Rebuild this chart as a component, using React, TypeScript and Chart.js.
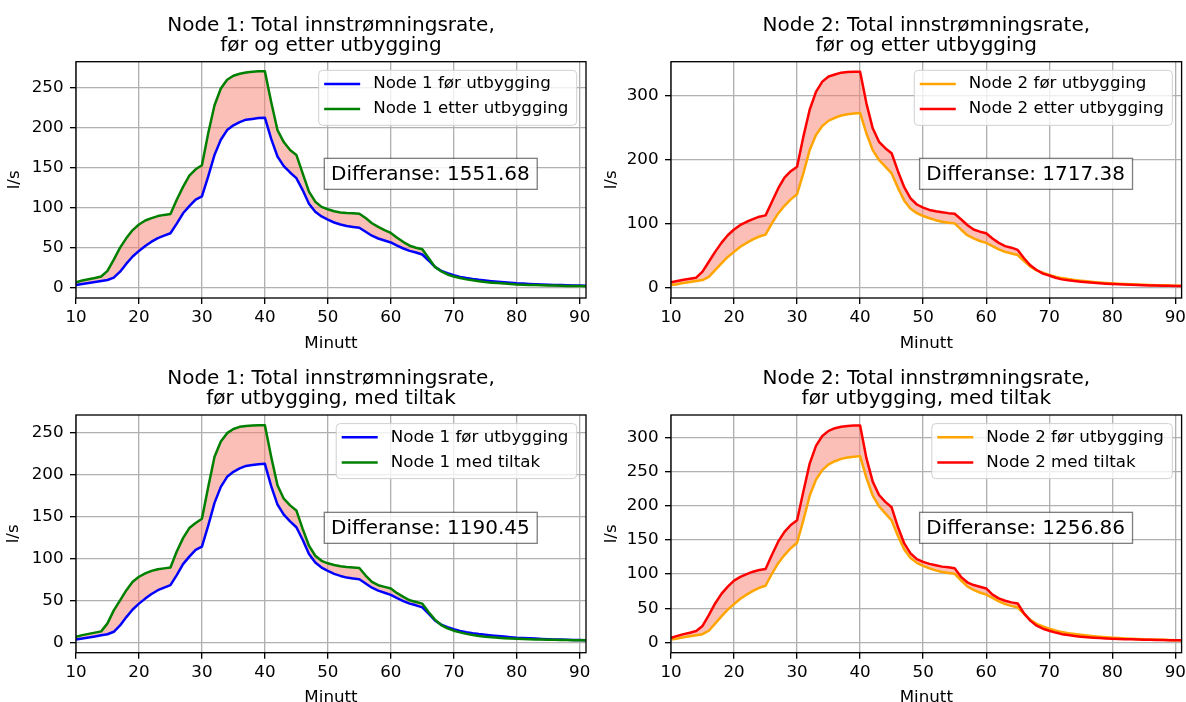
import React, { useEffect, useRef } from 'react';
import { Chart, registerables } from 'chart.js';

Chart.register(...registerables);

const FONT = '"DejaVu Sans", sans-serif';
const FILL = 'rgba(250,128,114,0.5)';

const minutes = [
  10, 11, 12, 13, 14, 15, 16, 17, 18, 19, 20, 21, 22, 23, 24, 25, 26, 27, 28, 29, 30,
  31, 32, 33, 34, 35, 36, 37, 38, 39, 40, 41, 42, 43, 44, 45, 46, 47, 48, 49, 50,
  51, 52, 53, 54, 55, 56, 57, 58, 59, 60, 61, 62, 63, 64, 65, 66, 67, 68, 69, 70,
  71, 72, 73, 74, 75, 76, 77, 78, 79, 80, 81, 82, 83, 84, 85, 86, 87, 88, 89, 90, 91,
];

const node1Before = [
  3.3, 4.5, 5.8, 7, 8.3, 9.6, 12.5, 20, 30, 39, 46, 52, 57.5, 62, 65, 68, 80, 93, 102, 110, 114,
  139, 166, 185, 197, 203, 207, 210, 211, 212, 212.5, 186, 164, 152, 144, 137, 122, 105, 95, 89, 85,
  81.5, 79, 77, 76, 75, 70, 65, 61.5, 59, 56.5, 52.5, 49, 46, 44, 41.5, 34, 26, 21, 18, 15.5,
  13.5, 12, 10.8, 9.8, 9, 8.2, 7.5, 6.8, 6.1, 5.5, 5.1, 4.7, 4.4, 4.0, 3.7, 3.4, 3.2, 3.0, 2.8, 2.6, 2.5,
];

const node1After = [
  6.7, 9, 10.5, 12, 14, 21, 35, 50, 62, 72, 79, 84, 87, 89.5, 91, 92, 110, 126, 140, 148, 153,
  193, 228, 249, 260, 265, 267.5, 269, 270, 270.5, 270.5, 232, 197, 182, 172, 166, 143, 120, 107.5, 101, 98,
  95.5, 94, 93.3, 93, 92.5, 87, 80.5, 76, 72, 68.5, 62.5, 57, 52.5, 50, 48, 37, 26, 20.5, 16.5, 14,
  12, 10.4, 9.2, 8, 7, 6.3, 5.7, 5.1, 4.6, 4.1, 3.8, 3.5, 3.2, 3.0, 2.8, 2.6, 2.4, 2.2, 2.1, 2.0, 1.9,
];

const node1Measures = [
  6.5, 8.5, 10, 11.5, 13, 22.5, 38, 50, 62, 72, 78, 82, 85, 87, 88, 89, 108, 124, 136, 142, 147,
  185, 221, 239, 249, 254, 256.5, 257.5, 258, 258.5, 258.5, 221, 187, 171, 163, 157, 135, 115, 103, 97, 94,
  92, 90.5, 89.5, 89, 88.5, 79.5, 72, 68, 66, 64, 58.5, 54, 50, 48, 46, 36, 27, 20.5, 16.5, 13.8,
  11.8, 10, 8.8, 7.6, 6.7, 6.0, 5.4, 4.9, 4.5, 4.2, 3.9, 3.6, 3.4, 3.2, 3.0, 2.9, 2.8, 2.6, 2.5, 2.4, 2.3,
];

const node2Before = [
  4, 5.5, 7.5, 9, 10.5, 12, 17, 27.5, 38, 48, 56, 64, 70, 75.5, 80, 83, 100.5, 116, 128, 138, 146,
  179, 215, 238.5, 252.5, 261, 265.5, 269, 271, 272, 273, 241, 215, 199.5, 189, 178.6, 156, 136, 123.5, 116.5, 112,
  108.5, 105.5, 103, 101.5, 100.5, 91, 82, 77, 73, 70, 65, 60, 56, 53.5, 51, 41.7, 33, 27, 23.4, 20,
  17.3, 15, 13.5, 12.2, 11, 10, 9.1, 8.3, 7.5, 6.8, 6.3, 5.8, 5.4, 5, 4.7, 4.3, 4, 3.7, 3.4, 3.1, 2.9,
];

const node2After = [
  8.3, 10.5, 12.5, 14, 15.6, 25, 40.6, 56, 70, 82, 91, 98, 103, 107, 111, 113, 134, 155, 172, 182, 189,
  236, 278, 306, 322, 330, 333, 336, 337, 337.5, 337.5, 288, 249, 228, 218, 210, 182, 157, 139.7, 130, 125,
  121.5, 119.5, 118, 116.5, 115.5, 107, 98, 91, 87.5, 85, 77, 70, 65, 62.5, 59, 46, 35, 27.6, 22, 19,
  15.5, 13, 11.5, 10.3, 9.4, 8.5, 7.7, 7, 6.3, 5.7, 5.3, 4.9, 4.5, 4.1, 3.8, 3.5, 3.3, 3.1, 2.9, 2.7, 2.6,
];

const node2Measures = [
  6.8, 9.5, 12, 14, 16.6, 24, 40, 57, 71, 81.6, 90.4, 96, 100, 103.6, 106, 107.5, 128, 147.6, 162, 172, 179,
  221, 262, 288, 302.5, 310, 314, 316, 317, 318, 318, 270, 235.6, 216, 206, 198, 169, 145, 130.5, 122, 118,
  115, 113, 111, 110, 108.5, 96, 88, 84, 81.6, 79, 70, 64.5, 61, 58.6, 57, 42.5, 31.8, 24.4, 20, 17,
  14.3, 12, 10.6, 9.3, 8.3, 7.5, 6.8, 6.2, 5.8, 5.4, 5.0, 4.7, 4.4, 4.1, 3.9, 3.7, 3.5, 3.3, 3.1, 3.0, 2.9,
];

const xTicks = [10, 20, 30, 40, 50, 60, 70, 80, 90];
const xRange = [10, 91];
const yTicksNode1 = [0, 50, 100, 150, 200, 250];
const yTicksNode2Top = [0, 100, 200, 300];
const yTicksNode2Bottom = [0, 50, 100, 150, 200, 250, 300];

const titlesLine1 = ['Node 1: Total innstrømningsrate,', 'Node 2: Total innstrømningsrate,'];
const titlesLine2 = ['før og etter utbygging', 'før utbygging, med tiltak'];
const diffTexts = ['Differanse: 1551.68', 'Differanse: 1717.38', 'Differanse: 1190.45', 'Differanse: 1256.86'];

type Cfg = {
  left: number; top: number; width: number; height: number;
  padTop: number; padRight: number; xHeight: number; ylabOffset: number;
  title: string[]; labels: string[]; colors: string[];
  before: number[]; after: number[];
  yRange: number[]; yTicks: number[]; diff: string;
};

const panels: Cfg[] = [
  {
    left: 0, top: 0, width: 593, height: 353, padTop: 61.7, padRight: 7, xHeight: 55, ylabOffset: 61,
    title: [titlesLine1[0], titlesLine2[0]],
    labels: ['Node 1 før utbygging', 'Node 1 etter utbygging'], colors: ['#0000ff', '#008000'],
    before: node1Before, after: node1After, yRange: [-12.9, 282.5], yTicks: yTicksNode1, diff: diffTexts[0],
  },
  {
    left: 595, top: 0, width: 591, height: 353, padTop: 61.7, padRight: 4.4, xHeight: 55, ylabOffset: 59.3,
    title: [titlesLine1[1], titlesLine2[0]],
    labels: ['Node 2 før utbygging', 'Node 2 etter utbygging'], colors: ['#ffa500', '#ff0000'],
    before: node2Before, after: node2After, yRange: [-16.1, 353.1], yTicks: yTicksNode2Top, diff: diffTexts[1],
  },
  {
    left: 0, top: 353, width: 593, height: 349, padTop: 62, padRight: 7, xHeight: 49.3, ylabOffset: 62.7,
    title: [titlesLine1[0], titlesLine2[1]],
    labels: ['Node 1 før utbygging', 'Node 1 med tiltak'], colors: ['#0000ff', '#008000'],
    before: node1Before, after: node1Measures, yRange: [-12.4, 270.6], yTicks: yTicksNode1, diff: diffTexts[2],
  },
  {
    left: 595, top: 353, width: 591, height: 349, padTop: 62, padRight: 4.4, xHeight: 49.3, ylabOffset: 59.3,
    title: [titlesLine1[1], titlesLine2[1]],
    labels: ['Node 2 før utbygging', 'Node 2 med tiltak'], colors: ['#ffa500', '#ff0000'],
    before: node2Before, after: node2Measures, yRange: [-15.2, 333.3], yTicks: yTicksNode2Bottom, diff: diffTexts[3],
  },
];

function roundRect(ctx: CanvasRenderingContext2D, x: number, y: number, w: number, h: number, r: number) {
  ctx.beginPath();
  ctx.moveTo(x + r, y);
  ctx.lineTo(x + w - r, y);
  ctx.arcTo(x + w, y, x + w, y + r, r);
  ctx.lineTo(x + w, y + h - r);
  ctx.arcTo(x + w, y + h, x + w - r, y + h, r);
  ctx.lineTo(x + r, y + h);
  ctx.arcTo(x, y + h, x, y + h - r, r);
  ctx.lineTo(x, y + r);
  ctx.arcTo(x, y, x + r, y, r);
  ctx.closePath();
}

function Panel({ cfg }: { cfg: Cfg }) {
  const ref = useRef<HTMLCanvasElement | null>(null);
  useEffect(() => {
    const canvas = ref.current;
    if (!canvas) return;
    const decor = {
      id: 'decor',
      afterDraw(chart: any) {
        const ctx: CanvasRenderingContext2D = chart.ctx;
        const a = chart.chartArea;
        ctx.save();
        ctx.strokeStyle = '#000';
        ctx.lineWidth = 1.33;
        ctx.strokeRect(a.left, a.top, a.right - a.left, a.bottom - a.top);
        const cx = (a.left + a.right) / 2;
        ctx.fillStyle = '#000';
        ctx.textAlign = 'center';
        ctx.textBaseline = 'alphabetic';
        ctx.font = `20px ${FONT}`;
        ctx.fillText(cfg.title[0], cx, a.top - 31);
        ctx.fillText(cfg.title[1], cx, a.top - 11);
        ctx.font = `16.7px ${FONT}`;
        ctx.fillText('Minutt', cx, a.bottom + 49.5);
        ctx.save();
        ctx.translate(a.left - cfg.ylabOffset, (a.top + a.bottom) / 2);
        ctx.rotate(-Math.PI / 2);
        ctx.textBaseline = 'middle';
        ctx.fillText('l/s', 0, 0);
        ctx.restore();

        // legend
        ctx.font = `16.7px ${FONT}`;
        const maxW = Math.max(...cfg.labels.map((l) => ctx.measureText(l).width));
        const boxRight = a.right - 9.3;
        const boxTop = a.top + 8.6;
        const textStart = boxRight - 8.4 - maxW;
        const sampleEnd = textStart - 13;
        const sampleStart = sampleEnd - 36;
        const boxLeft = sampleStart - 5.5;
        roundRect(ctx, boxLeft, boxTop, boxRight - boxLeft, 55, 4);
        ctx.fillStyle = 'rgba(255,255,255,0.8)';
        ctx.fill();
        ctx.strokeStyle = '#d0d0d0';
        ctx.lineWidth = 1;
        ctx.stroke();
        const rows = [13.7, 38.8];
        cfg.labels.forEach((l, i) => {
          const y = boxTop + rows[i];
          ctx.strokeStyle = cfg.colors[i];
          ctx.lineWidth = 2.5;
          ctx.beginPath();
          ctx.moveTo(sampleStart, y);
          ctx.lineTo(sampleEnd, y);
          ctx.stroke();
          ctx.fillStyle = '#000';
          ctx.textAlign = 'left';
          ctx.textBaseline = 'middle';
          ctx.fillText(l, textStart, y);
        });

        // difference annotation
        ctx.font = `20px ${FONT}`;
        ctx.textAlign = 'left';
        ctx.textBaseline = 'alphabetic';
        const tx = cx;
        const ty = (a.top + a.bottom) / 2;
        const tw = ctx.measureText(cfg.diff).width;
        ctx.fillStyle = 'rgba(255,255,255,0.85)';
        ctx.fillRect(tx - 6.7, ty - 21.5, tw + 14.2, 31);
        ctx.strokeStyle = 'rgba(0,0,0,0.5)';
        ctx.lineWidth = 1.33;
        ctx.strokeRect(tx - 6.7, ty - 21.5, tw + 14.2, 31);
        ctx.fillStyle = '#000';
        ctx.fillText(cfg.diff, tx, ty);
        ctx.restore();
      },
    };

    const gridOpts = {
      color: '#b0b0b0',
      lineWidth: 1.33,
      tickLength: 6,
      tickColor: '#000',
      tickWidth: 1.33,
    };

    const chart = new Chart(canvas, {
      type: 'line',
      data: {
        datasets: [
          {
            label: cfg.labels[1],
            data: minutes.map((m, i) => ({ x: m, y: cfg.after[i] })),
            borderColor: cfg.colors[1],
            backgroundColor: FILL,
            borderWidth: 2.5,
            pointRadius: 0,
            tension: 0,
            fill: '+1',
            borderJoinStyle: 'round',
          },
          {
            label: cfg.labels[0],
            data: minutes.map((m, i) => ({ x: m, y: cfg.before[i] })),
            borderColor: cfg.colors[0],
            borderWidth: 2.5,
            pointRadius: 0,
            tension: 0,
            fill: false,
            borderJoinStyle: 'round',
          },
        ],
      },
      options: {
        responsive: false,
        animation: false,
        devicePixelRatio: 1,
        events: [],
        layout: { padding: { top: cfg.padTop, right: cfg.padRight, left: 0, bottom: 0 } },
        plugins: {
          legend: { display: false },
          tooltip: { enabled: false },
          title: { display: false },
          filler: { drawTime: 'beforeDatasetsDraw' },
        },
        scales: {
          x: {
            type: 'linear',
            min: xRange[0],
            max: xRange[1],
            bounds: 'data',
            afterBuildTicks: (s: any) => {
              s.ticks = xTicks.map((v) => ({ value: v }));
            },
            afterFit: (s: any) => {
              s.height = cfg.xHeight;
              s.paddingLeft = 0;
              s.paddingRight = 0;
            },
            ticks: {
              font: { family: FONT, size: 16.7 },
              color: '#000',
              padding: 4,
              autoSkip: false,
              maxRotation: 0,
              callback: (v: any) => String(v),
            },
            grid: gridOpts,
            border: { display: false },
          },
          y: {
            type: 'linear',
            min: cfg.yRange[0],
            max: cfg.yRange[1],
            bounds: 'data',
            afterBuildTicks: (s: any) => {
              s.ticks = cfg.yTicks.map((v) => ({ value: v }));
            },
            afterFit: (s: any) => {
              s.width = 76;
              s.paddingTop = 0;
              s.paddingBottom = 0;
            },
            ticks: {
              font: { family: FONT, size: 16.7 },
              color: '#000',
              padding: 6.5,
              autoSkip: false,
              callback: (v: any) => String(v),
            },
            grid: gridOpts,
            border: { display: false },
          },
        },
      } as any,
      plugins: [decor],
    });
    return () => chart.destroy();
  }, [cfg]);

  return (
    <canvas
      ref={ref}
      width={cfg.width}
      height={cfg.height}
      style={{ position: 'absolute', left: cfg.left, top: cfg.top, width: cfg.width, height: cfg.height }}
    />
  );
}

export default function App() {
  return (
    <div style={{ position: 'absolute', left: 0, top: 0, width: 1186, height: 702, background: '#fff', overflow: 'hidden' }}>
      {panels.map((p, i) => (
        <Panel key={i} cfg={p} />
      ))}
    </div>
  );
}
